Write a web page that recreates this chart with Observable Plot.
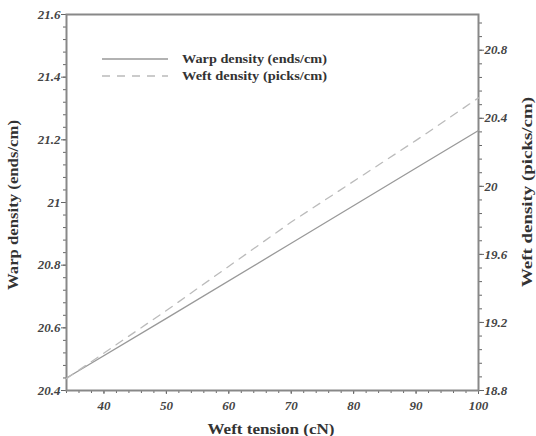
<!DOCTYPE html>
<html>
<head>
<meta charset="utf-8">
<script src="https://cdn.jsdelivr.net/npm/d3@7"></script>
<script src="https://cdn.jsdelivr.net/npm/@observablehq/plot@0.6"></script>
<style>
  body { margin: 0; background: #fff; }
  #chart { width: 536px; height: 436px; }
</style>
</head>
<body>
<div id="chart"></div>
<script>
// ---- data ----
const tension = [34, 50, 70, 90, 100];
const warpDensity = [20.44, 20.63, 20.87, 21.11, 21.23];
const weftDensity = [18.87, 19.27, 19.79, 20.27, 20.52];
const xTicks = [40, 50, 60, 70, 80, 90, 100];
const leftTicks = [20.4, 20.6, 20.8, 21, 21.2, 21.4, 21.6];
const rightTicks = [18.8, 19.2, 19.6, 20, 20.4, 20.8];
const seriesNames = ["Warp density (ends/cm)", "Weft density (picks/cm)"];
const xTitle = "Weft tension (cN)";
const leftTitle = "Warp density (ends/cm)";
const rightTitle = "Weft density (picks/cm)";

// ---- scales ----
const leftDomain = [20.4, 21.6];
const rightDomain = [18.8, 21.01];
const toLeft = v => leftDomain[0] + (v - rightDomain[0]) * (leftDomain[1] - leftDomain[0]) / (rightDomain[1] - rightDomain[0]);

const warp = tension.map((t, i) => ({x: t, y: warpDensity[i]}));
const weft = tension.map((t, i) => ({x: t, y: toLeft(weftDensity[i])}));

const xMinor = d3.range(34, 100.001, 2);
const leftMinor = d3.range(20.4, 21.6001, 0.04);
const rightMinor = d3.range(18.8, 21.0001, 0.08).map(toLeft);

const fnum = d => String(+d.toFixed(2));

const plot = Plot.plot({
  width: 536,
  height: 436,
  marginLeft: 66,
  marginRight: 58,
  marginTop: 14,
  marginBottom: 46,
  style: {fontFamily: "Liberation Serif, serif", color: "#333", background: "#fff"},
  x: {domain: [34, 100], label: null},
  y: {domain: leftDomain, label: null},
  marks: [
    Plot.axisX(xMinor, {tickSize: 3, text: null, stroke: "#666", label: null}),
    Plot.axisX(xTicks, {tickSize: 4, tickPadding: 6, stroke: "#666", fontSize: 13, label: null}),
    Plot.axisY(leftMinor, {anchor: "left", tickSize: 3, text: null, stroke: "#666", label: null}),
    Plot.axisY(leftTicks, {anchor: "left", tickSize: 5, tickPadding: 1, stroke: "#666", fontSize: 13, tickFormat: fnum, label: null}),
    Plot.axisY(rightMinor, {anchor: "right", tickSize: 3, text: null, stroke: "#666", label: null}),
    Plot.axisY(rightTicks.map(toLeft), {anchor: "right", tickSize: 5, tickPadding: 1, stroke: "#666", fontSize: 13, tickFormat: (d, i) => fnum(rightTicks[i]), label: null}),
    Plot.frame({stroke: "#888", strokeWidth: 2}),
    Plot.line(warp, {x: "x", y: "y", stroke: "#999", strokeWidth: 1.3}),
    Plot.line(weft, {x: "x", y: "y", stroke: "#bbb", strokeWidth: 1.3, strokeDasharray: "8,7"})
  ]
});
document.getElementById("chart").appendChild(plot);

const svg = d3.select(plot);

// tick labels: bold italic serif
svg.selectAll('[aria-label$="tick label"] text')
  .style("font-family", "'Liberation Serif', serif")
  .style("font-weight", "bold")
  .style("font-style", "italic")
  .style("fill", "#444");

// ---- axis titles ----
const titles = svg.append("g").attr("font-weight", "bold").attr("fill", "#333")
  .attr("font-family", "Liberation Serif, serif")
  .attr("font-size", 15).attr("text-anchor", "middle");
titles.append("text").attr("x", 271).attr("y", 429).attr("dy", "0.35em")
  .attr("textLength", 127).attr("lengthAdjust", "spacingAndGlyphs").text(xTitle);
titles.append("text").attr("transform", "translate(13,205) rotate(-90)").attr("dy", "0.35em")
  .attr("textLength", 170).attr("lengthAdjust", "spacingAndGlyphs").text(leftTitle);
titles.append("text").attr("transform", "translate(527,192) rotate(-90)").attr("dy", "0.35em")
  .attr("textLength", 190).attr("lengthAdjust", "spacingAndGlyphs").text(rightTitle);

// ---- legend ----
const lg = svg.append("g").attr("text-anchor", "start").attr("font-family", "Liberation Serif, serif");
const legendRows = [
  {name: seriesNames[0], stroke: "#999", dash: null},
  {name: seriesNames[1], stroke: "#bbb", dash: "8,7"}
];
legendRows.forEach((r, i) => {
  const y = 59 + i * 17;
  lg.append("line").attr("x1", 102).attr("x2", 168).attr("y1", y).attr("y2", y)
    .attr("stroke", r.stroke).attr("stroke-width", 1.5).attr("stroke-dasharray", r.dash);
  lg.append("text").attr("x", 182).attr("y", y).attr("dy", "0.35em")
    .attr("font-size", 12).attr("font-weight", "bold").attr("fill", "#333")
    .attr("textLength", 145).attr("lengthAdjust", "spacingAndGlyphs")
    .text(r.name);
});
</script>
</body>
</html>
